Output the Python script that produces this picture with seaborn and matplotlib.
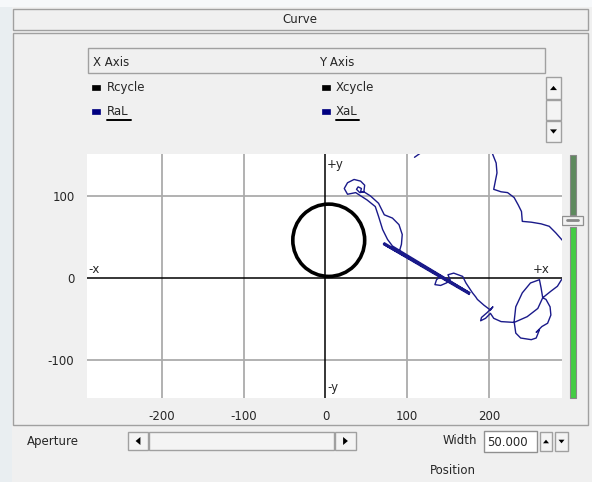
import matplotlib
matplotlib.use("Agg")
import matplotlib.pyplot as plt
import matplotlib.patches as mpatches
from matplotlib.lines import Line2D
import seaborn as sns

# RaL / XaL trace (blue)
ral = [71, 176, 90, 93, 94, 90, 82, 72, 65, 55, 47, 42, 38, 40, 44, 43, 47, 48, 43, 35,
       27, 23, 27, 37, 51, 61, 65, 70, 76, 82, 177, 72, 176, 71, 141, 136, 134, 141, 148, 153,
       150, 157, 168, 172, 176, 180, 184, 186, 194, 202, 205, 198, 191, 190, 196, 202, 206, 215, 231, 247,
       260, 266, 264, 262, 251, 241, 233, 231, 233, 239, 252, 258, 262, 258, 265, 272, 276, 275, 270, 266,
       276, 284, 289, 300, 305, 296, 290, 282, 274, 264, 252, 241, 240, 236, 231, 223, 215, 206, 208, 210,
       209, 205, 200, 120, 119, 109]
xal = [42, -19, 31, 41, 53, 65, 73, 77, 91, 100, 105, 104, 108, 111, 109, 105, 105, 113, 118, 120,
       116, 109, 102, 104, 95, 87, 75, 59, 47, 39, -18, 43, -20, 41, 2, -2, -8, -9, -6, -3,
       4, 6, 2, -6, -12, -18, -23, -26, -33, -39, -35, -42, -48, -52, -49, -43, -49, -53, -54, -47,
       -37, -24, -12, -2, -6, -18, -35, -53, -67, -73, -75, -73, -63, -66, -59, -55, -45, -35, -26, -24,
       -16, -10, -2, 5, 35, 45, 46, 55, 63, 66, 68, 69, 81, 89, 98, 104, 105, 108, 118, 128,
       140, 150, 165, 165, 154, 147]

# Rcycle / Xcycle (black circle)
cycle_center = (4, 46)
cycle_radius = 44

x_ticks = [-200, -100, 0, 100, 200]
y_ticks = [-100, 0, 100]
x_range = (-292, 289)
y_range = (-146, 151)

W, H = 592, 482
UI_BG = "#f0f0f0"
EDGE = "#a0a0a0"

sns.set_style("white")
plt.rcParams["font.family"] = ["DejaVu Sans"]
plt.rcParams["font.size"] = 8.5
plt.rcParams["axes.unicode_minus"] = False

fig = plt.figure(figsize=(W / 100, H / 100), dpi=100, facecolor=UI_BG)


def fx(px):
    return px / W


def fy(py):
    return 1 - py / H


def box(x0, y0, x1, y1, fc=UI_BG, ec=EDGE, lw=1.0, z=1):
    r = mpatches.Rectangle((fx(x0), fy(y1)), fx(x1) - fx(x0), fy(y0) - fy(y1),
                           transform=fig.transFigure, facecolor=fc, edgecolor=ec,
                           linewidth=lw, zorder=z)
    fig.add_artist(r)


def tri(cx, cy, d, s=4):
    if d == "up":
        pts = [(cx - s, cy + s * 0.6), (cx + s, cy + s * 0.6), (cx, cy - s * 0.6)]
    elif d == "down":
        pts = [(cx - s, cy - s * 0.6), (cx + s, cy - s * 0.6), (cx, cy + s * 0.6)]
    elif d == "left":
        pts = [(cx + s * 0.6, cy - s), (cx + s * 0.6, cy + s), (cx - s * 0.6, cy)]
    else:
        pts = [(cx - s * 0.6, cy - s), (cx - s * 0.6, cy + s), (cx + s * 0.6, cy)]
    p = mpatches.Polygon([(fx(a), fy(b)) for a, b in pts], closed=True,
                         transform=fig.transFigure, facecolor="black", edgecolor="none", zorder=3)
    fig.add_artist(p)


def txt(px, py, s, **kw):
    fig.text(fx(px), fy(py), s, va="center", **kw)


# window decoration around the panel
box(0, 0, 12, H, fc="#e9eef1", ec="none", lw=0, z=0)
box(0, 0, W, 7, fc="#f6f8fa", ec="none", lw=0, z=0)

# "Curve" header and main frame
box(13, 9, 588, 30)
txt(300, 19.5, "Curve", ha="center")
box(13, 33, 588, 425)

# legend header
box(88, 48, 545, 73)
txt(93, 62, "X Axis")
txt(319, 62, "Y Axis")

# legend rows
box(92, 85, 100, 90, fc="black", ec="black", lw=0.5, z=2)
txt(107, 87.5, "Rcycle")
box(322, 85, 330, 90, fc="black", ec="black", lw=0.5, z=2)
txt(336, 87.5, "Xcycle")
box(92, 109, 100, 114, fc="#000080", ec="#000080", lw=0.5, z=2)
txt(107, 111.5, "RaL")
box(322, 109, 330, 114, fc="#000080", ec="#000080", lw=0.5, z=2)
txt(336, 111.5, "XaL")
for x0, x1 in [(107, 131), (336, 359)]:
    fig.add_artist(Line2D([fx(x0), fx(x1)], [fy(120), fy(120)], transform=fig.transFigure,
                          color="black", lw=1.4))

# list scroll buttons
box(546, 77, 561, 99, fc="#f4f4f4")
tri(553.5, 88, "up", 3.5)
box(546, 100, 561, 120, fc="#f4f4f4")
box(546, 121, 561, 142, fc="#f4f4f4")
tri(553.5, 131.5, "down", 3.5)

# vertical slider at the right of the plot
box(569.5, 155, 576, 215, fc="#5e8a5e", ec="#888888", lw=0.8)
box(569.5, 227, 576, 398, fc="#44cc44", ec="#888888", lw=0.8)
box(562, 216, 583, 225, fc="#f2f2f2", ec="#909090", lw=0.9, z=2)
fig.add_artist(Line2D([fx(567), fx(578)], [fy(220.5), fy(220.5)], transform=fig.transFigure,
                      color="#888888", lw=2, zorder=3))

# bottom controls
txt(27, 441, "Aperture")
box(128, 432, 148, 450, fc="#f4f4f4")
tri(138, 441, "left", 4)
box(149, 432, 334, 450, fc="#f4f4f4")
box(335, 432, 356, 450, fc="#f4f4f4")
tri(345.5, 441, "right", 4)
txt(477, 441, "Width", ha="right")
box(484, 431, 537, 452, fc="white", ec="#909090")
txt(487, 442, "50.000")
box(540, 432, 552, 451, fc="#f4f4f4")
tri(546, 441.5, "up", 3)
box(555, 432, 568, 451, fc="#f4f4f4")
tri(561.5, 441.5, "down", 3)
txt(430, 470, "Position")

# --- plot area ---
ax = fig.add_axes([fx(87), fy(398), fx(561.5) - fx(87), fy(154) - fy(398)])
ax.set_zorder(10)
ax.set_facecolor("white")
for s in ax.spines.values():
    s.set_visible(False)

ax.set_xlim(*x_range)
ax.set_ylim(*y_range)
ax.set_xticks(x_ticks)
ax.set_yticks(y_ticks)
ax.tick_params(axis="both", direction="out", length=6, width=1, color="black",
               labelsize=8.5, pad=3)

for v in x_ticks:
    if v != 0:
        ax.axvline(v, color="#ababab", lw=1.3, zorder=0)
for v in y_ticks:
    if v != 0:
        ax.axhline(v, color="#ababab", lw=1.3, zorder=0)
ax.axvline(0, color="black", lw=1.1, zorder=1)
ax.axhline(0, color="black", lw=1.1, zorder=1)

ax.add_patch(mpatches.Circle(cycle_center, cycle_radius, fill=False, edgecolor="black",
                             lw=2.6, zorder=3))

sns.lineplot(x=ral, y=xal, sort=False, estimator=None, color="#1a1a8a", lw=1.0, ax=ax, zorder=4)

ax.text(2, 146, "+y", fontsize=8.5, ha="left", va="top")
ax.text(2, -133, "-y", fontsize=8.5, ha="left", va="center")
ax.text(-290, 2, "-x", fontsize=8.5, ha="left", va="bottom")
ax.text(254, 2, "+x", fontsize=8.5, ha="left", va="bottom")

fig.savefig("out.png", dpi=100, facecolor=fig.get_facecolor())
